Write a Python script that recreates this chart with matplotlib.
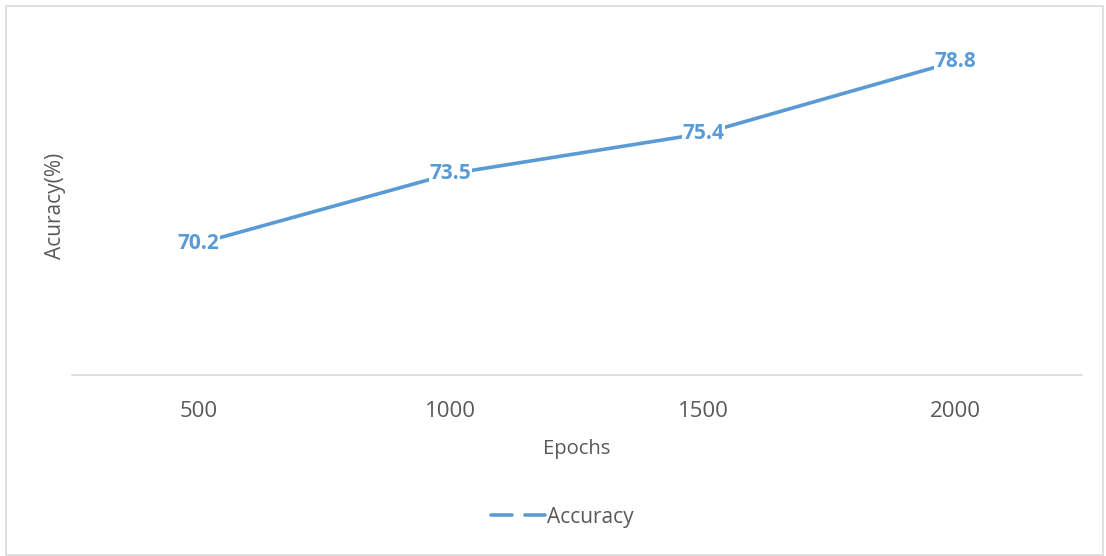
import matplotlib
matplotlib.use("Agg")
import matplotlib.pyplot as plt
from matplotlib.lines import Line2D
from matplotlib.patches import Rectangle

plt.rcParams["font.family"] = ["Open Sans", "DejaVu Sans"]

epochs = ["500", "1000", "1500", "2000"]
accuracy = [70.2, 73.5, 75.4, 78.8]

LINE_COL = "#5B9BD5"
TEXT_COL = "#595959"
GRID_COL = "#D9D9D9"

fig = plt.figure(figsize=(11.06, 5.56), dpi=100)
ax = fig.add_axes([0.0651, 0.3255, 0.9132, 0.6098])

xs = list(range(len(epochs)))
ax.plot(xs, accuracy, color=LINE_COL, linewidth=2.6, solid_capstyle="round", zorder=2)

for x, v in zip(xs, accuracy):
    ax.text(x, v, f"{v:.1f}", ha="center", va="center", fontsize=15,
            fontweight="bold", color=LINE_COL, zorder=3,
            bbox=dict(facecolor="white", edgecolor="none", pad=0.5))

ax.set_xlim(-0.5, len(epochs) - 0.5)
ax.set_ylim(64, 80)
ax.set_yticks([])
ax.set_xticks(xs)
ax.set_xticklabels(epochs, fontsize=16, color=TEXT_COL)
ax.tick_params(axis="x", length=0, pad=19)

for side in ("top", "right", "left"):
    ax.spines[side].set_visible(False)
ax.spines["bottom"].set_color(GRID_COL)
ax.spines["bottom"].set_linewidth(1.2)

ax.set_xlabel("Epochs", fontsize=14.5, color=TEXT_COL, labelpad=12)
ax.set_ylabel("Acuracy(%)", fontsize=15, color=TEXT_COL, labelpad=4)

# Excel-style legend: dashed sample line below the chart
handle = Line2D([0], [0], color=LINE_COL, linewidth=2.6,
                dashes=(5.8, 3.6), dash_capstyle="round")
fig.legend(handles=[handle], labels=["Accuracy"], loc="center",
           bbox_to_anchor=(562 / 1106, 1 - 517 / 556), frameon=False,
           fontsize=15, handlelength=2.6, handletextpad=0.1,
           labelcolor=TEXT_COL)

# chart area border
fig.patches.append(Rectangle((5.5 / 1106, 1 / 556), 1097 / 1106, 549 / 556,
                             transform=fig.transFigure, fill=False,
                             edgecolor=GRID_COL, linewidth=1.2))

fig.savefig("out.png", dpi=100)
